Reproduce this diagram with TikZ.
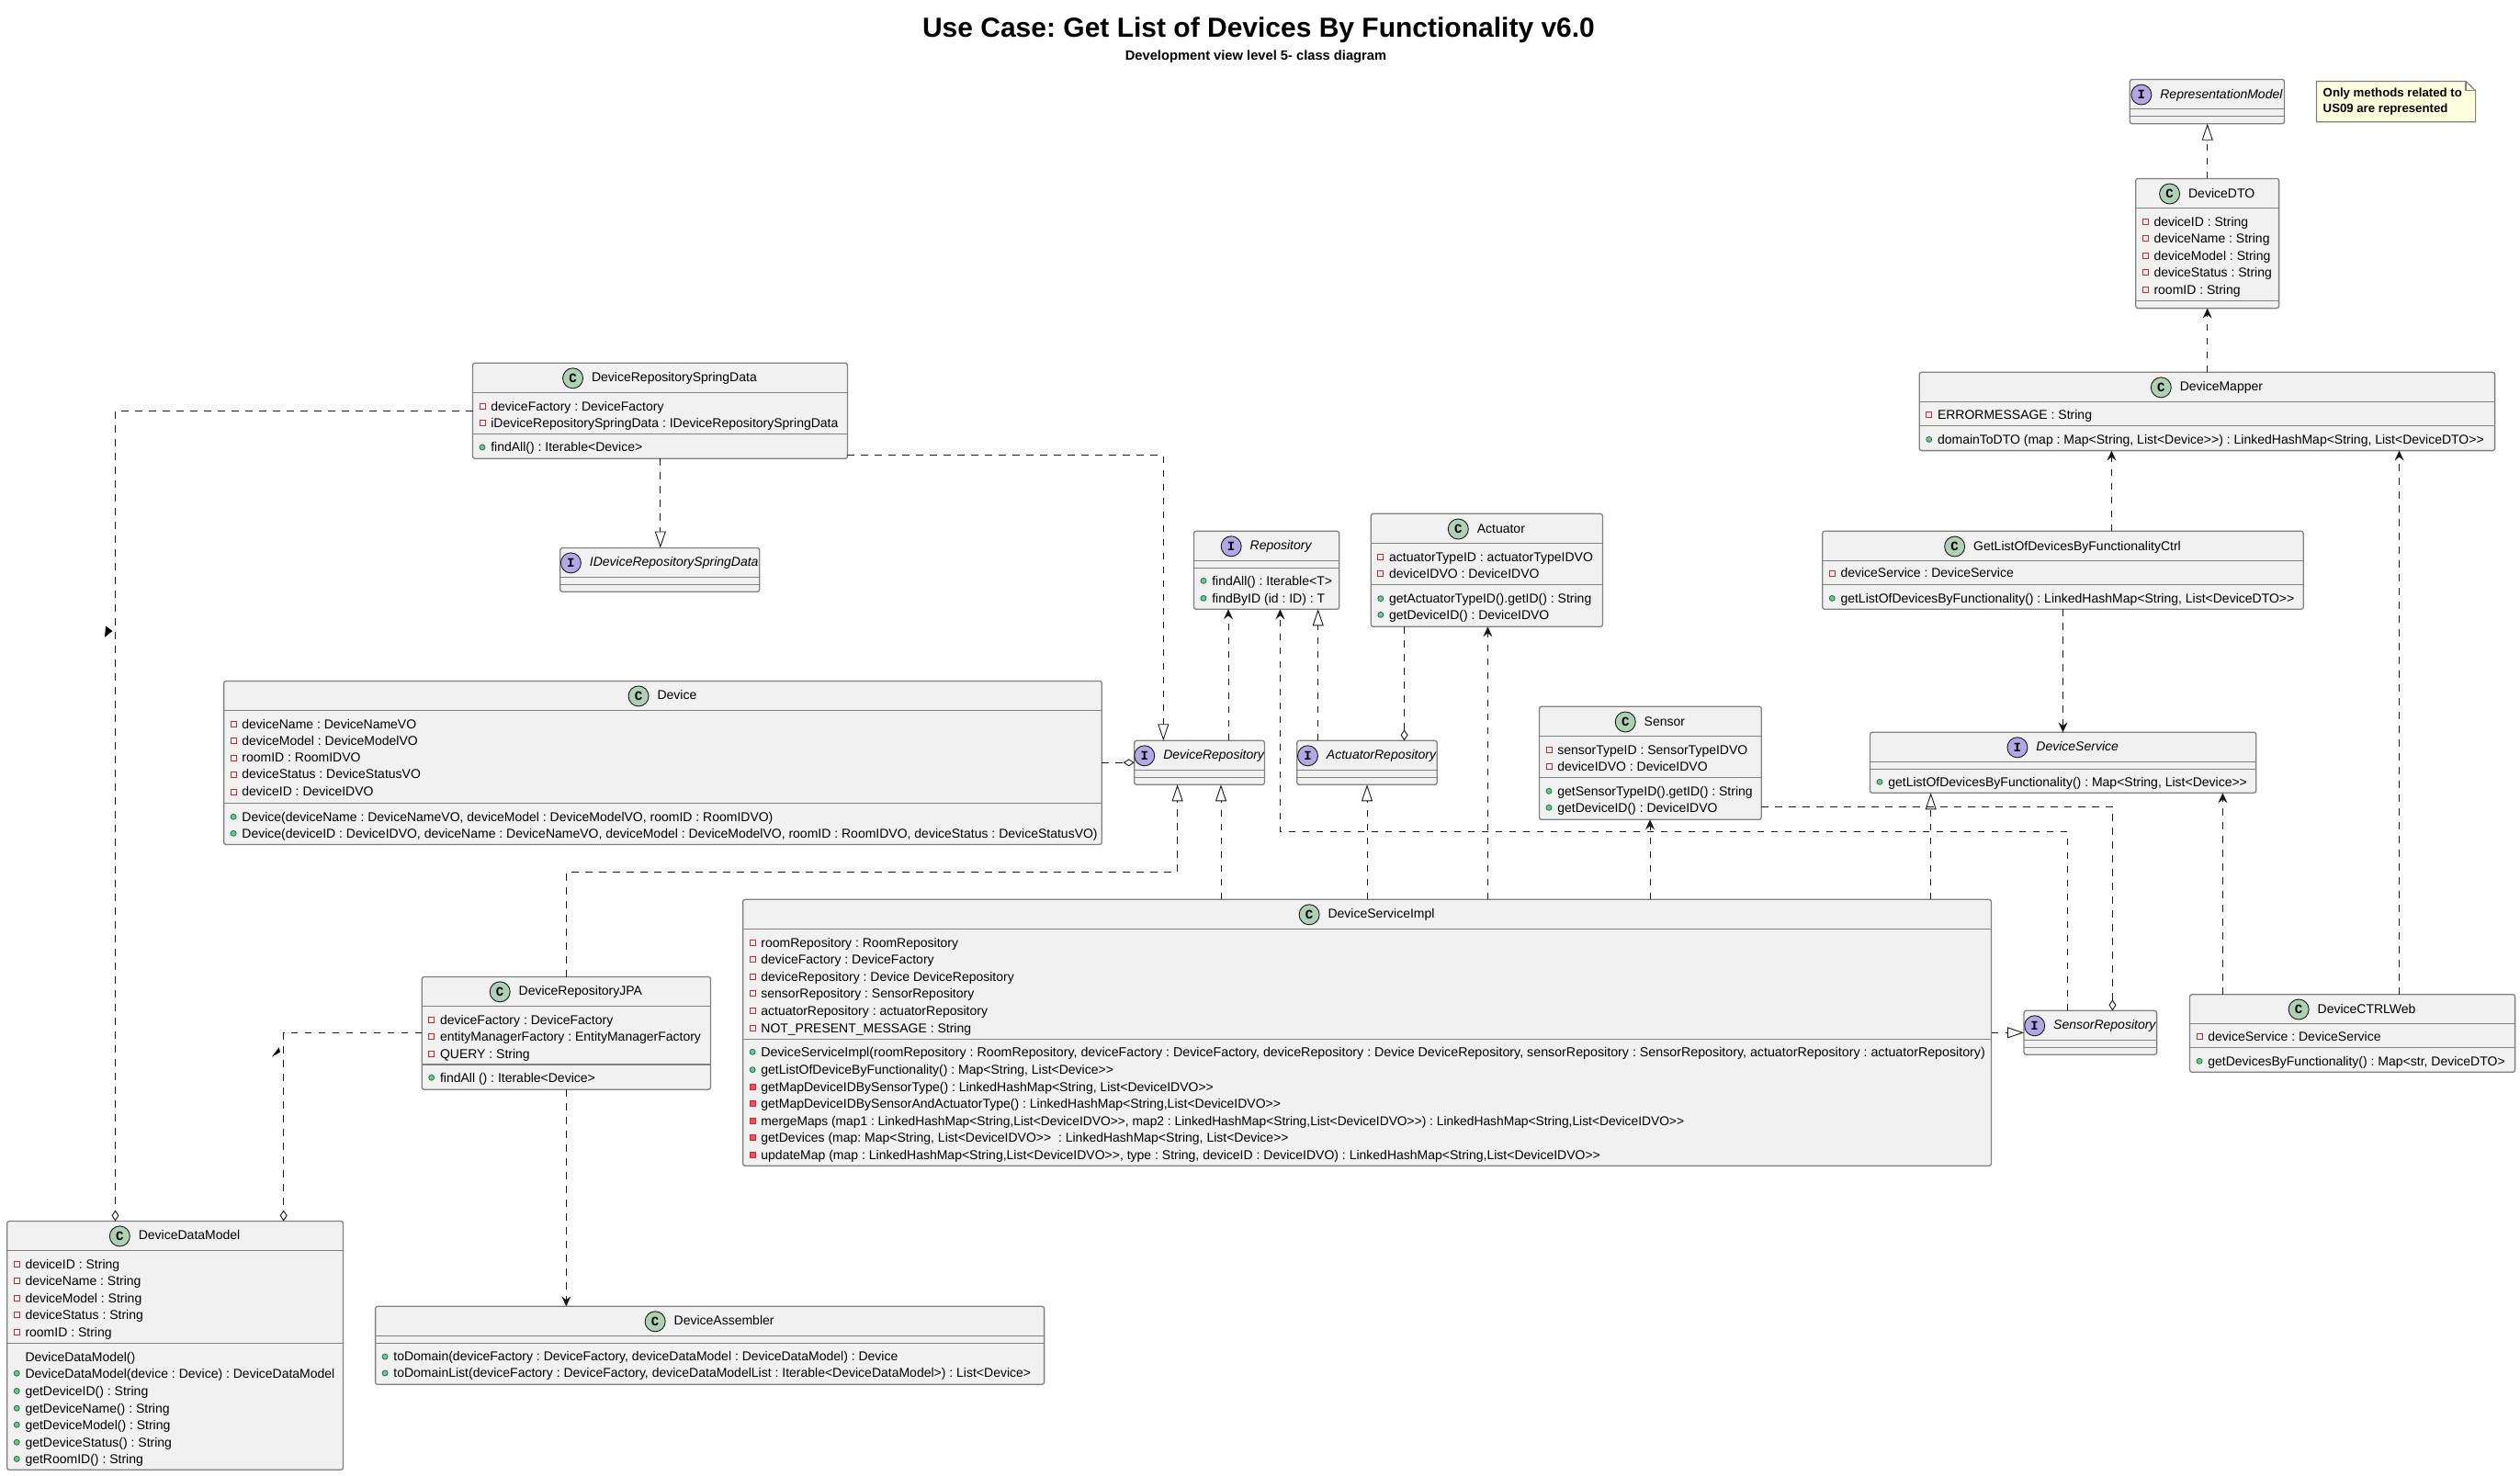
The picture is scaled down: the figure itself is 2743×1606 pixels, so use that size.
\documentclass[tikz,border=0pt]{standalone}
\usepackage{fontspec}
\usetikzlibrary{arrows.meta}
\newfontfamily\umlf{Liberation Sans}
\newfontfamily\monof{Liberation Mono}
\frenchspacing
\newcounter{rowc}
\definecolor{boxfill}{HTML}{F1F1F1}
\definecolor{boxline}{HTML}{808080}
\definecolor{linecol}{HTML}{181818}
\definecolor{cfill}{HTML}{ADD1B2}
\definecolor{ifill}{HTML}{B4A7E5}
\definecolor{privline}{HTML}{C82930}
\definecolor{privfill}{HTML}{F24D5C}
\definecolor{publine}{HTML}{038048}
\definecolor{pubfill}{HTML}{84BE84}
\definecolor{notefill}{HTML}{FEFFDD}
\tikzset{
 classbox/.style={draw=boxline,fill=boxfill,line width=1.3pt,rounded corners=2.5pt,inner sep=0pt,outer sep=0pt},
 sepline/.style={draw=boxline,line width=1.2pt},
 rowtext/.style={font=\umlf\fontsize{14}{16}\selectfont,anchor=base west,inner sep=0pt,outer sep=0pt,text=black},
 nametext/.style={font=\umlf\fontsize{14}{16}\selectfont,inner sep=0pt,outer sep=0pt,text=black,text height=10pt,text depth=3pt},
 nameital/.style={nametext,font=\umlf\itshape\fontsize{14}{16}\selectfont},
 badge/.style={circle,draw=linecol,line width=0.9pt,minimum size=22pt,inner sep=0pt,outer sep=0pt,font=\monof\bfseries\fontsize{14}{14}\selectfont,text=black},
 dep/.style={draw=linecol,line width=0.9pt,dash pattern=on 7.5pt off 7.5pt},
 arr/.style={dep,-{Stealth[length=11pt,width=10pt,inset=4pt,fill=linecol]}},
 tri/.style={dep,-{Triangle[open,length=18pt,width=12pt,fill=white]}},
 dia/.style={dep,-{Diamond[open,length=12pt,width=8pt,fill=white]}},
 blacktip/.style={fill=black,draw=none}
}
\newcommand\iconP[2]{\fill[pubfill,draw=publine,line width=0.8pt] ({#1},{#2}) circle (3pt);}
\newcommand\iconF[2]{\draw[privline,line width=1pt] ({#1-3},{#2-3}) rectangle ({#1+3},{#2+3});}
\newcommand\iconM[2]{\fill[privfill,draw=privline,line width=0.8pt] ({#1-3},{#2-3}) rectangle ({#1+3},{#2+3});}
\newcommand\iconN[2]{}
\newcommand\cls[9]{%
 \pgfmathsetmacro{\bw}{#5-#4}\pgfmathsetmacro{\bh}{#9-#6}%
 \pgfmathsetmacro{\cx}{(#4+#5)/2}\pgfmathsetmacro{\cy}{(#6+#9)/2}\pgfmathsetmacro{\ty}{(#6+#7)/2+1}%
 \xdef\curL{#4}%
 \node[classbox,minimum width=\bw pt,minimum height=\bh pt] (#1) at (\cx,\cy) {};
 \draw[sepline] (#4,#7) -- (#5,#7);
 \draw[sepline] (#4,#8) -- (#5,#8);
 \if#2I\node[nameital] (#1-name) at (\cx+15.5,\ty) {#3};
 \node[badge,fill=ifill,anchor=east] (#1-badge) at ([xshift=-9.5pt,yshift=0.5pt]#1-name.west) {I};
 \else\node[nametext] (#1-name) at (\cx+15.5,\ty) {#3};
 \node[badge,fill=cfill,anchor=east] (#1-badge) at ([xshift=-9.5pt,yshift=0.5pt]#1-name.west) {C};
 \fi
}
\newcommand\rw[3]{%
 \stepcounter{rowc}%
 \node[rowtext] (row\arabic{rowc}) at (\curL+19.8,#1+4.8) {#3};
 \csname icon#2\endcsname{\curL+10.5}{#1}%
}
\begin{document}
\begin{tikzpicture}[x=1pt,y=-1pt]
\useasboundingbox (0,0) rectangle (2743,1606);
\fill[white] (0,0) rectangle (2743,1606);
\node[font=\umlf\bfseries\fontsize{30}{32}\selectfont,inner sep=0pt,anchor=base] (title) at (1370,40.7) {Use Case: Get List of Devices By Functionality v6.0};
\node[font=\umlf\bfseries\fontsize{14.7}{16}\selectfont,inner sep=0pt,anchor=base] (subtitle) at (1367,65) {Development view level 5- class diagram};
% note
\draw[fill=notefill,draw=boxline,line width=1.2pt] (2521.5,88.4) -- (2683.9,88.4) -- (2694.6,98.7) -- (2694.6,132.8) -- (2521.5,132.8) -- cycle;
\draw[boxline,line width=1.2pt] (2683.9,88.4) -- (2683.9,98.7) -- (2694.6,98.7);
\node[font=\umlf\bfseries\fontsize{13.2}{16.8}\selectfont,align=left,inner sep=0pt,anchor=north west] (note) at (2528.5,95.5) {Only methods related to\\US09 are represented};
% classes
\cls{spring}{C}{DeviceRepositorySpringData}{514.5}{922.4}{395.2}{427.4}{472.5}{499.3}
\rw{442.3}{F}{deviceFactory : DeviceFactory}
\rw{460.3}{F}{iDeviceRepositorySpringData : IDeviceRepositorySpringData}
\rw{487}{P}{findAll() : Iterable<Device>}
\cls{idev}{I}{IDeviceRepositorySpringData}{609.7}{826.7}{596.5}{628.3}{636.3}{644.3}
\cls{device}{C}{Device}{243.6}{1199.3}{741.5}{773.3}{874.3}{919.4}
\rw{788.3}{F}{deviceName : DeviceNameVO}
\rw{806.2}{F}{deviceModel : DeviceModelVO}
\rw{825}{F}{roomID : RoomIDVO}
\rw{843}{F}{deviceStatus : DeviceStatusVO}
\rw{862}{F}{deviceID : DeviceIDVO}
\rw{889.3}{P}{Device(deviceName : DeviceNameVO, deviceModel : DeviceModelVO, roomID : RoomIDVO)}
\rw{907.3}{P}{Device(deviceID : DeviceIDVO, deviceName : DeviceNameVO, deviceModel : DeviceModelVO, roomID : RoomIDVO, deviceStatus : DeviceStatusVO)}
\cls{repo}{I}{Repository}{1299.5}{1457.7}{578.3}{610.3}{618.3}{663.3}
\rw{632.3}{P}{findAll() : Iterable<T>}
\rw{651.3}{P}{findByID (id : ID) : T}
\cls{actuator}{C}{Actuator}{1492.3}{1744.4}{559.3}{591.7}{636.3}{682.3}
\rw{606.3}{F}{actuatorTypeID : actuatorTypeIDVO}
\rw{624.3}{F}{deviceIDVO : DeviceIDVO}
\rw{651.7}{P}{getActuatorTypeID().getID() : String}
\rw{669.3}{P}{getDeviceID() : DeviceIDVO}
\cls{devrepo}{I}{DeviceRepository}{1234.7}{1376.5}{806.3}{838.3}{846.3}{854.3}
\cls{actrepo}{I}{ActuatorRepository}{1411.7}{1564.3}{806.3}{838.3}{846.3}{854.3}
\cls{sensor}{C}{Sensor}{1675.5}{1917.3}{769.3}{801.7}{846.3}{892.3}
\rw{816.3}{F}{sensorTypeID : SensorTypeIDVO}
\rw{834.3}{F}{deviceIDVO : DeviceIDVO}
\rw{861.3}{P}{getSensorTypeID().getID() : String}
\rw{879.3}{P}{getDeviceID() : DeviceIDVO}
\cls{devserv}{I}{DeviceService}{2035.5}{2455.8}{797.3}{829.3}{837.3}{863.3}
\rw{851.3}{P}{getListOfDevicesByFunctionality() : Map<String, List<Device>>}
\cls{dsi}{C}{DeviceServiceImpl}{808.6}{2167.5}{979.3}{1011.3}{1131.3}{1269.3}
\rw{1026.3}{F}{roomRepository : RoomRepository}
\rw{1044.3}{F}{deviceFactory : DeviceFactory}
\rw{1063.3}{F}{deviceRepository : Device DeviceRepository}
\rw{1081.3}{F}{sensorRepository : SensorRepository}
\rw{1100.3}{F}{actuatorRepository : actuatorRepository}
\rw{1119.3}{F}{NOT\_PRESENT\_MESSAGE : String}
\rw{1145.3}{P}{\fontsize{14.25}{16}\selectfont DeviceServiceImpl(roomRepository : RoomRepository, deviceFactory : DeviceFactory, deviceRepository : Device DeviceRepository, sensorRepository : SensorRepository, actuatorRepository : actuatorRepository)}
\rw{1164.7}{P}{getListOfDeviceByFunctionality() : Map<String, List<Device>>}
\rw{1183.3}{M}{getMapDeviceIDBySensorType() : LinkedHashMap<String, List<DeviceIDVO>>}
\rw{1201.3}{M}{getMapDeviceIDBySensorAndActuatorType() : LinkedHashMap<String,List<DeviceIDVO>>}
\rw{1220.3}{M}{\fontsize{13.8}{16}\selectfont mergeMaps (map1 : LinkedHashMap<String,List<DeviceIDVO>>, map2 : LinkedHashMap<String,List<DeviceIDVO>>) : LinkedHashMap<String,List<DeviceIDVO>>}
\rw{1238.3}{M}{getDevices (map: Map<String, List<DeviceIDVO>>\ \ : LinkedHashMap<String, List<Device>>}
\rw{1257.3}{M}{updateMap (map : LinkedHashMap<String,List<DeviceIDVO>>, type : String, deviceID : DeviceIDVO) : LinkedHashMap<String,List<DeviceIDVO>>}
\cls{senrepo}{I}{SensorRepository}{2203}{2347.6}{1100.3}{1132.3}{1140.3}{1148.3}
\cls{web}{C}{DeviceCTRLWeb}{2383.5}{2737.6}{1082.7}{1114.3}{1140.3}{1167.3}
\rw{1128.3}{F}{deviceService : DeviceService}
\rw{1155.3}{P}{getDevicesByFunctionality() : Map<str, DeviceDTO>}
\cls{jpa}{C}{DeviceRepositoryJPA}{459.2}{773.5}{1063.5}{1095.2}{1159}{1186.2}
\rw{1110.4}{F}{deviceFactory : DeviceFactory}
\rw{1128.4}{F}{entityManagerFactory : EntityManagerFactory}
\rw{1147.2}{F}{QUERY : String}
\rw{1173.2}{P}{findAll () : Iterable<Device>}
\cls{ddm}{C}{DeviceDataModel}{7.7}{373.5}{1329.5}{1361.3}{1462.4}{1600.3}
\rw{1376.5}{F}{deviceID : String}
\rw{1394.5}{F}{deviceName : String}
\rw{1413.3}{F}{deviceModel : String}
\rw{1431.3}{F}{deviceStatus : String}
\rw{1450.5}{F}{roomID : String}
\rw{1477.2}{N}{DeviceDataModel()}
\rw{1495.2}{P}{DeviceDataModel(device : Device) : DeviceDataModel}
\rw{1514.4}{P}{getDeviceID() : String}
\rw{1533.2}{P}{getDeviceName() : String}
\rw{1551.2}{P}{getDeviceModel() : String}
\rw{1570.3}{P}{getDeviceStatus() : String}
\rw{1588.4}{P}{getRoomID() : String}
\cls{assembler}{C}{DeviceAssembler}{408.6}{1136.6}{1422.3}{1454.3}{1462.3}{1507.3}
\rw{1477}{P}{toDomain(deviceFactory : DeviceFactory, deviceDataModel : DeviceDataModel) : Device}
\rw{1495}{P}{toDomainList(deviceFactory : DeviceFactory, deviceDataModelList : Iterable<DeviceDataModel>) : List<Device>}
\cls{rep}{I}{RepresentationModel}{2318.3}{2486.5}{86.5}{118.6}{126.3}{134.7}
\cls{dto}{C}{DeviceDTO}{2324.7}{2480.6}{194.4}{226.6}{327.6}{335.6}
\rw{241.5}{F}{deviceID : String}
\rw{259.5}{F}{deviceName : String}
\rw{278.2}{F}{deviceModel : String}
\rw{296.2}{F}{deviceStatus : String}
\rw{315.3}{F}{roomID : String}
\cls{mapper}{C}{DeviceMapper}{2089.2}{2715.6}{405.3}{437.4}{463.8}{490.6}
\rw{451.6}{F}{ERRORMESSAGE : String}
\rw{478.4}{P}{domainToDTO (map : Map<String, List<Device>>) : LinkedHashMap<String, List<DeviceDTO>>}
\cls{getlist}{C}{GetListOfDevicesByFunctionalityCtrl}{1983.7}{2507.2}{578.3}{610.7}{636.7}{663.3}
\rw{624}{F}{deviceService : DeviceService}
\rw{651.3}{P}{getListOfDevicesByFunctionality() : LinkedHashMap<String, List<DeviceDTO>>}
% connectors
\coordinate (j1) at (616.3,949.4);
\coordinate (j2) at (1281.6,949.4);
\coordinate (s1) at (2250.5,905.5);
\coordinate (s2) at (1393.4,905.5);
\draw[dia] (spring.west |- 0,447.3) -| (ddm.north -| 125.5,0);
\draw[tri] (spring.south -| 718.8,0) -- (idev.north -| 718.8,0);
\draw[tri] (spring.east |- 0,495.5) -| (devrepo.north -| 1266.3,0);
\draw[dia] (device.east |- 0,830.3) -- (devrepo.west |- 0,830.3);
\draw[arr] (devrepo.north -| 1337,0) -- (repo.south -| 1337,0);
\draw[tri] (actrepo.north -| 1434.7,0) -- (repo.south -| 1434.7,0);
\draw[dia] (actuator.south -| 1528.6,0) -- (actrepo.north -| 1528.6,0);
\draw[tri] (jpa.north -| 616.3,0) -- (j1) -- (j2) -- (devrepo.south -| 1281.6,0);
\draw[tri] (dsi.north -| 1329,0) -- (devrepo.south -| 1329,0);
\draw[tri] (dsi.north -| 1488,0) -- (actrepo.south -| 1488,0);
\draw[arr] (dsi.north -| 1619.4,0) -- (actuator.south -| 1619.4,0);
\draw[arr] (dsi.north -| 1796,0) -- (sensor.south -| 1796,0);
\draw[tri] (dsi.north -| 2101.7,0) -- (devserv.south -| 2101.7,0);
\draw[tri] (dsi.east |- 0,1124.3) -- (senrepo.west |- 0,1124.3);
\draw[arr] (senrepo.north -| 2250.5,0) -- (s1) -- (s2) -- (repo.south -| 1393.4,0);
\draw[dia] (sensor.east |- 0,878.3) -| (senrepo.north -| 2299.5,0);
\draw[dia] (jpa.west |- 0,1124.5) -| (ddm.north -| 308.7,0);
\draw[arr] (jpa.south -| 616.3,0) -- (assembler.north -| 616.3,0);
\draw[arr] (getlist.south -| 2245.5,0) -- (devserv.north -| 2245.5,0);
\draw[arr] (getlist.north -| 2298.4,0) -- (mapper.south -| 2298.4,0);
\draw[arr] (web.north -| 2419.4,0) -- (devserv.south -| 2419.4,0);
\draw[arr] (web.north -| 2611.5,0) -- (mapper.south -| 2611.5,0);
\draw[arr] (mapper.north -| 2402.7,0) -- (dto.south -| 2402.7,0);
\draw[tri] (dto.north -| 2402.7,0) -- (rep.south -| 2402.7,0);
% stray markers
\fill[blacktip] (115,681.5) -- (122.5,687) -- (114,693.7) -- cycle;
\fill[blacktip] (303.6,1140.4) -- (305,1145.4) -- (296,1150.5) -- cycle;
\end{tikzpicture}
\end{document}
